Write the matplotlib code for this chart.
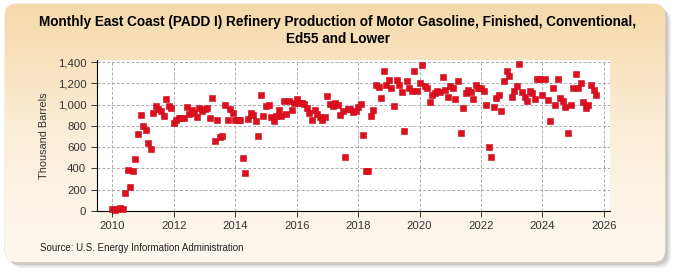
import numpy as np
import pandas as pd
import matplotlib
matplotlib.use('Agg')
import matplotlib.pyplot as plt
from matplotlib.patches import FancyBboxPatch
from matplotlib.colors import LinearSegmentedColormap


TITLE = ('Monthly East Coast (PADD I) Refinery Production of Motor Gasoline, Finished, Conventional,\n'
         'Ed55 and Lower')
Y_LABEL = 'Thousand Barrels'
SOURCE = 'Source: U.S. Energy Information Administration'

START_MONTH = '2010-01'
# thousand barrels, one value per month
production = [
    19, 9, 19, 28, 22, 173, 386, 229, 380, 490, 728, 904,
    803, 766, 643, 584, 923, 988, 963, 945, 898, 1057, 988, 973,
    831, 857, 872, 879, 879, 982, 916, 948, 926, 888, 973, 945,
    957, 966, 879, 1067, 659, 860, 694, 709, 998, 860, 960, 926,
    854, 860, 860, 502, 361, 869, 926, 904, 850, 709, 1095, 894,
    992, 1001, 885, 850, 898, 951, 898, 1039, 913, 1039, 954, 1020,
    1057, 1020, 1020, 1007, 973, 926, 860, 954, 913, 888, 860, 888,
    1086, 1010, 992, 1020, 998, 907, 945, 511, 963, 963, 935, 945,
    976, 1007, 719, 380, 380, 898, 954, 1189, 1170, 1067, 1312, 1189,
    1233, 1152, 992, 1233, 1189, 1123, 756, 1218, 1152, 1133, 1312, 1133,
    1208, 1377, 1180, 1161, 1027, 1095, 1114, 1130, 1123, 1261, 1142, 1076,
    1180, 1152, 1057, 1227, 734, 973, 1105, 1142, 1123, 1057, 1189, 1161,
    1152, 1133, 998, 606, 511, 982, 1067, 1095, 945, 1218, 1312, 1265,
    1076, 1133, 1180, 1387, 1123, 1076, 1039, 1133, 1114, 1057, 1246, 1246,
    1092, 1246, 1048, 850, 1152, 1001, 1237, 1067, 1039, 982, 737, 1001,
    1152, 1293, 1152, 1208, 1029, 973, 1001, 1189, 1142, 1095,
]

year_ticks = list(range(2010, 2027, 2))
value_ticks = list(range(0, 1401, 200))

FONT = 'Liberation Sans'


def main():
    dates = pd.date_range(START_MONTH, periods=len(production), freq='MS')
    x = dates.year + (dates.month - 1) / 12.0

    fig = plt.figure(figsize=(6.75, 2.75), dpi=100)
    fig.patch.set_facecolor('white')

    # Rounded beige panel with a soft shadow behind everything
    bg = fig.add_axes([0, 0, 1, 1], zorder=-10)
    bg.set_xlim(0, 675)
    bg.set_ylim(275, 0)
    bg.axis('off')
    for off, alpha in [(6, 0.10), (4.5, 0.15), (3, 0.2)]:
        bg.add_patch(FancyBboxPatch((5 + off, 4 + off), 660, 258,
                                    boxstyle='round,pad=0,rounding_size=12',
                                    fc='#777777', ec='none', alpha=alpha, zorder=1))
    panel = FancyBboxPatch((5, 4), 660, 258,
                           boxstyle='round,pad=0,rounding_size=12',
                           fc='#fcf4e6', ec='#e8d6b8', lw=0.6, zorder=2)
    bg.add_patch(panel)
    grad_cmap = LinearSegmentedColormap.from_list('panel', ['#f6d9aa', '#fbeed9', '#fdf8f0'])
    grad = np.linspace(0, 1, 256).reshape(-1, 1)
    im = bg.imshow(grad, cmap=grad_cmap, extent=[5, 665, 262, 4], aspect='auto', zorder=3)
    im.set_clip_path(panel)

    ax = fig.add_axes([96.7 / 675, 64 / 275, (610 - 96.7) / 675, (211 - 60) / 275])
    ax.set_facecolor('white')
    ax.plot(x, production, linestyle='none', marker='s', markersize=3.8,
            color='#dd1020', markeredgecolor='#c80818', markeredgewidth=0.4,
            clip_on=False, zorder=3)

    ax.set_xlim(2009.49, 2026.2)
    ax.set_ylim(0, 1420)
    ax.set_xticks(year_ticks)
    ax.set_yticks(value_ticks)
    ax.set_yticklabels([f'{v:,}' for v in value_ticks])
    ax.grid(True, color='#aaaaaa', linestyle=(0, (3, 2)), linewidth=0.7)
    ax.set_axisbelow(True)

    for side in ['top', 'right']:
        ax.spines[side].set_visible(False)
    ax.tick_params(axis='both', colors='#333333', length=4, width=0.7)
    for lbl in ax.get_xticklabels() + ax.get_yticklabels():
        lbl.set_family(FONT)
        lbl.set_fontsize(8.2)

    ax.set_ylabel(Y_LABEL, fontsize=7.8, family=FONT, color='#333333', labelpad=6)

    fig.text(0.5, 0.945, TITLE, ha='center', va='top', fontsize=9.8,
             fontweight='bold', family=FONT, linespacing=1.25)
    fig.text(40 / 675, 1 - 248 / 275, SOURCE, ha='left', va='center', fontsize=7,
             family=FONT, color='#222222')

    fig.savefig('out.png', dpi=100, facecolor='white')


if __name__ == '__main__':
    main()
